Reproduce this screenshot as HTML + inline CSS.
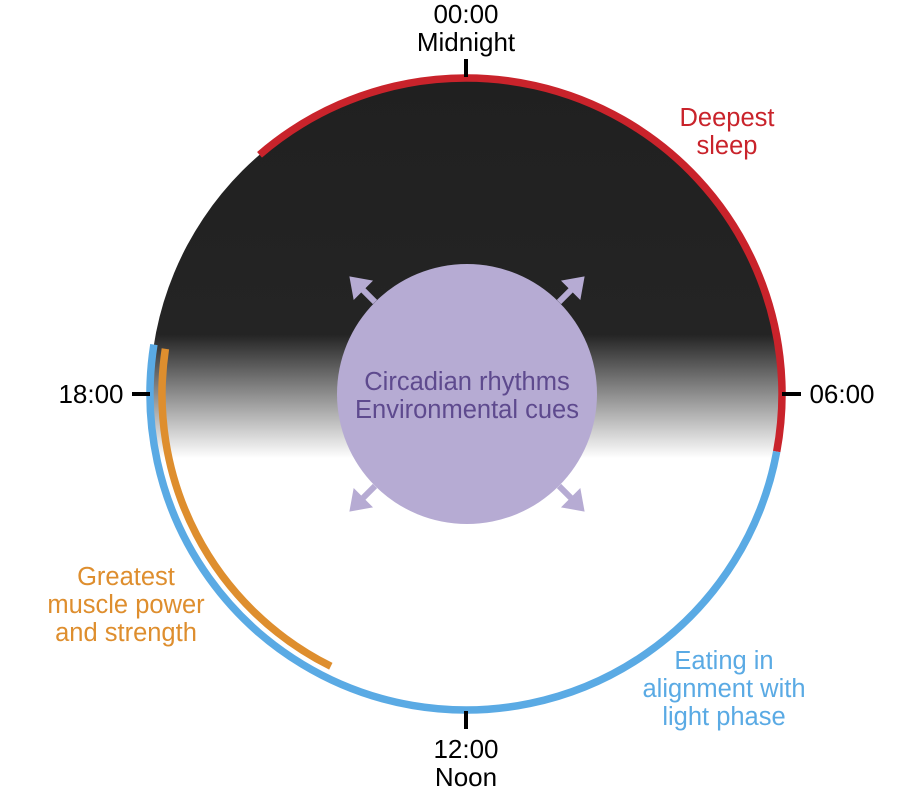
<!DOCTYPE html>
<html><head><meta charset="utf-8"><style>
html,body{margin:0;padding:0;background:#fff;}
svg{display:block;font-family:"Liberation Sans",Arial,sans-serif;}
</style></head><body>
<svg width="923" height="797" viewBox="0 0 923 797">
<defs>
<linearGradient id="g" x1="0" y1="0" x2="0" y2="797" gradientUnits="userSpaceOnUse">
<stop offset="0" stop-color="#1f1f1f"/>
<stop offset="0.42" stop-color="#242424"/>
<stop offset="0.575" stop-color="#fff"/>
<stop offset="1" stop-color="#fff"/>
</linearGradient>
</defs>
<circle cx="466" cy="394" r="316" fill="url(#g)"/>
<g id="arcs"></g>
<circle cx="467" cy="394" r="130" fill="#b6abd3"/>
<g fill="#b6abd3" stroke="#b6abd3" id="arrows"></g>
<text x="467" y="390" font-size="25.5" fill="#5e4a8e" text-anchor="middle">Circadian rhythms</text>
<text x="467" y="418" font-size="25.5" fill="#5e4a8e" text-anchor="middle">Environmental cues</text>
<g stroke="#000" stroke-width="4">
<line x1="466" y1="59" x2="466" y2="77"/>
<line x1="466" y1="711" x2="466" y2="729"/>
<line x1="132" y1="394" x2="150" y2="394"/>
<line x1="782" y1="394" x2="801" y2="394"/>
</g>
<g font-size="26" fill="#000" text-anchor="middle">
<text x="466" y="23">00:00</text>
<text x="466" y="51">Midnight</text>
<text x="466" y="758">12:00</text>
<text x="466" y="786">Noon</text>
<text x="91" y="403">18:00</text>
<text x="842" y="403">06:00</text>
</g>
<g font-size="25.5" text-anchor="middle">
<text x="727" y="126" fill="#c9232b">Deepest</text>
<text x="727" y="154" fill="#c9232b">sleep</text>
<text x="126" y="585" fill="#de8e2e">Greatest</text>
<text x="126" y="613" fill="#de8e2e">muscle power</text>
<text x="126" y="641" fill="#de8e2e">and strength</text>
<text x="724" y="669" fill="#5aaae4">Eating in</text>
<text x="724" y="697" fill="#5aaae4">alignment with</text>
<text x="724" y="725" fill="#5aaae4">light phase</text>
</g>
</svg>
<script>
// arc data in clock hours (0 = midnight at top, clockwise)
const arcNames=['deepest-sleep-arc','eating-arc','muscle-power-arc'];
const arcStart=[21.28,6.7,13.76];
const arcEnd=[6.7,18.6,18.57];
const arcColors=['#c9232b','#5aaae4','#de8e2e'];
const arcRadius=[316,316,304];
const cx=466,cy=394;
function pt(h,r){const a=h/24*2*Math.PI;return [cx+r*Math.sin(a),cy-r*Math.cos(a)];}
const ns='http://www.w3.org/2000/svg';
const g=document.getElementById('arcs');
for(let i=0;i<arcNames.length;i++){
 const s=arcStart[i],e=arcEnd[i],r=arcRadius[i];
 const span=((e-s)%24+24)%24;
 const p0=pt(s,r),p1=pt(e,r);
 const d=`M${p0[0]},${p0[1]} A${r},${r} 0 ${span>12?1:0} 1 ${p1[0]},${p1[1]}`;
 const p=document.createElementNS(ns,'path');
 p.setAttribute('d',d);p.setAttribute('fill','none');
 p.setAttribute('stroke',arcColors[i]);p.setAttribute('stroke-width','7.5');
 
 
 g.appendChild(p);
}
const ag=document.getElementById('arrows');
[[-1,-1],[1,-1],[-1,1],[1,1]].forEach(([sx,sy])=>{
 const x0=cx+1+sx*92,y0=cy+sy*92,x1=cx+1+sx*117,y1=cy+sy*117;
 const l=document.createElementNS(ns,'line');
 l.setAttribute('x1',x0);l.setAttribute('y1',y0);l.setAttribute('x2',x1-sx*6);l.setAttribute('y2',y1-sy*6);
 l.setAttribute('stroke-width','6');
 
 
 ag.appendChild(l);
 const h=document.createElementNS(ns,'polygon');
 h.setAttribute('points',`${x1},${y1} ${x1-sx*22},${y1-sy*4} ${x1-sx*4},${y1-sy*22}`);
 
 
 ag.appendChild(h);
});
</script>
</body></html>
